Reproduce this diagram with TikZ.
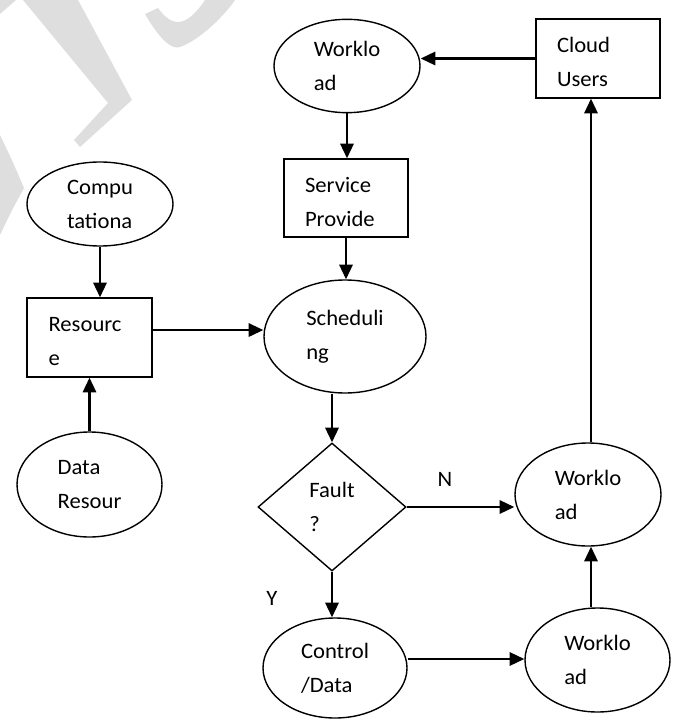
\documentclass[tikz,border=0pt]{standalone}
\usepackage{fontspec}
\setmainfont[FakeStretch=1.03]{Carlito}
\usetikzlibrary{shapes.geometric,arrows.meta}
\begin{document}
\begin{tikzpicture}[x=0.75pt,y=-0.75pt,
  every node/.style={font=\fontsize{16.5pt}{25.5pt}\selectfont},
  dn/.style={execute at begin node={\rule{0pt}{17pt}}},
  ell/.style={draw,ellipse,line width=1.05pt,inner sep=0pt,align=left,dn},
  rbox/.style={draw,rectangle,line width=1.05pt,inner sep=0pt,text width=61.5pt,align=left,dn},
  dia/.style={draw,diamond,line width=1.05pt,inner sep=0pt,align=left,dn},
  arr/.style={line width=1.6pt,-{Triangle[length=11pt,width=10pt]}},
  wm/.style={fill=black!13,draw=none}]
\useasboundingbox (0,0) rectangle (676,720);
% watermark
\fill[wm] (23,0) -- (78,0) -- (132,100) -- (80,147) -- (74,140) -- (108,103) -- cycle;
\fill[wm] (0,0) -- (16,0) -- (0,14) -- cycle;
\fill[wm] (145,14) .. controls (160,40) and (172,50) .. (180,47) .. controls (200,40) and (225,15) .. (235,0) -- (205,0) .. controls (195,15) and (186,22) .. (178,22) .. controls (170,22) and (163,15) .. (158,8) -- cycle;
\fill[wm] (0,135) .. controls (12,160) .. (24,188) .. controls (12,210) .. (0,235) -- cycle;
% nodes
\node[ell,minimum width=109.5pt,minimum height=70pt] (W1) at (347,66) {Worklo\\ad};
\node[rbox,minimum width=93pt,minimum height=59.25pt] (Cloud) at (598,58.5) {Cloud\\Users};
\node[rbox,minimum width=93pt,minimum height=58.5pt] (Svc) at (346,198) {Service\\Provide};
\node[ell,minimum width=109.5pt,minimum height=63pt] (Comp) at (100,204) {Compu\\tationa};
\node[rbox,minimum width=93.75pt,minimum height=59.25pt] (Res) at (89.5,337.5) {Resourc\\e};
\node[ell,minimum width=121.5pt,minimum height=84.75pt] (Sched) at (345,336.5) {Scheduli\\ng};
\node[ell,minimum width=108.75pt,minimum height=78.75pt] (Data) at (89.5,484.5) {Data\\Resour};
\node[dia,minimum width=111pt,minimum height=96pt] (D) at (332,507) {Fault\\?};
\node[ell,minimum width=109.5pt,minimum height=77.25pt] (W2) at (588,494.5) {Worklo\\ad};
\node[ell,minimum width=108pt,minimum height=75pt] (Ctrl) at (335,668) {Control\\/Data};
\node[ell,minimum width=108.75pt,minimum height=78pt] (W3) at (597.5,660) {Worklo\\ad};
\node (N) at (445,479) {N};
\node (Y) at (272,598) {Y};
% connectors
\draw[arr] (Cloud.west) -- (Cloud.west -| W1.east);
\draw[arr] (W1.south) -- (W1.south |- Svc.north);
\draw[arr] (Svc.south) -- (Svc.south |- Sched.north);
\draw[arr] (Comp.south) -- (Comp.south |- Res.north);
\draw[arr] (Data.north) -- (Data.north |- Res.south);
\draw[arr] ([yshift=5.6pt]Res.east) -- ([yshift=5.6pt]Res.east -| Sched.west);
\draw[arr] (D.north |- Sched.south) -- (D.north);
\draw[arr] (D.east) -- (D.east -| W2.west);
\draw[arr] (D.south) -- (D.south |- Ctrl.north);
\draw[arr] ([yshift=6.75pt]Ctrl.east) -- ([yshift=6.75pt]Ctrl.east -| W3.west);
\coordinate (vx) at ([xshift=2.25pt]W2.south);
\draw[arr] (vx |- W3.north) -- (vx);
\draw[arr] (vx |- W2.north) -- (vx |- Cloud.south);
\end{tikzpicture}
\end{document}
